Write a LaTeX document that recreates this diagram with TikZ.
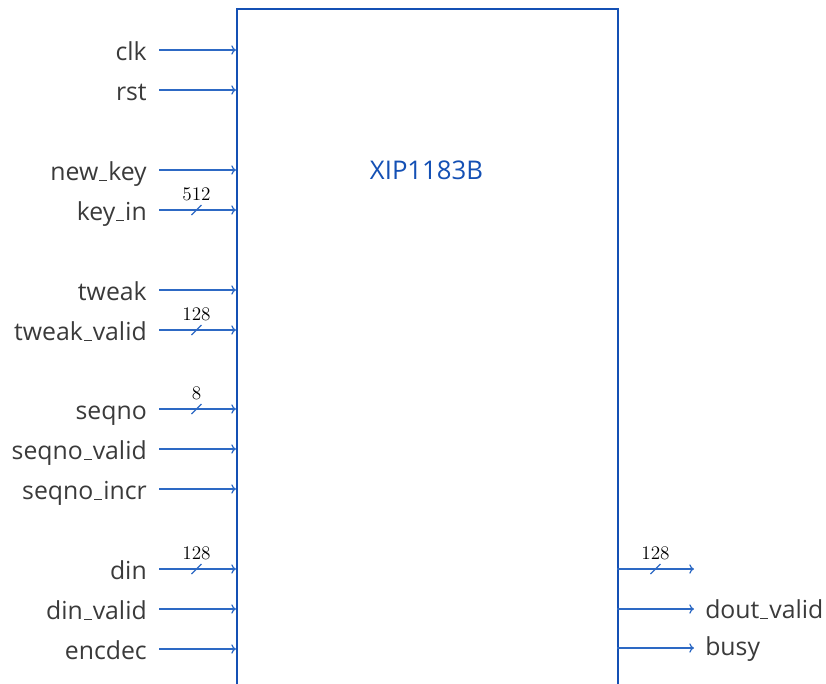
\documentclass[tikz,border=0pt]{standalone}
\usepackage{fontspec}
\newfontfamily\lblfont{Open Sans}
\usetikzlibrary{arrows.meta}
\definecolor{boxblue}{HTML}{1450B4}
\definecolor{sigblue}{HTML}{2D69C4}
\definecolor{txtgray}{HTML}{3A3A3A}
\newcommand\usc{\leavevmode\kern.04em\raisebox{-0.04em}{\rule{0.32em}{0.055em}}\kern.04em}
\begin{document}
\begin{tikzpicture}[x=0.75pt,y=-0.75pt,
  lbl/.style={anchor=base east,inner sep=0pt,text=txtgray,font=\lblfont\fontsize{18.6}{22}\selectfont},
  olbl/.style={anchor=base west,inner sep=0pt,text=txtgray,font=\lblfont\fontsize{18.6}{22}\selectfont},
  sig/.style={draw=sigblue,line width=0.9pt,-{To[length=3.5pt,width=7pt]}},
  bus/.style={draw=sigblue,line width=0.9pt},
  wlbl/.style={inner sep=0pt,font=\fontsize{15}{17}\selectfont},
  blk/.style={draw=boxblue,line width=1.6pt,anchor=north west,minimum width=285.75pt,minimum height=540pt,inner sep=0pt}]
\clip (0,0) rectangle (826,683);
\node[blk] (box) at (236,8) {};
\node[text=boxblue,font=\lblfont\fontsize{19.3}{24}\selectfont] (title) at (426.5,170) {XIP1183B};
% inputs
\foreach \n/\t/\y in {clk/clk/50, rst/rst/90, newkey/new\usc key/170, keyin/key\usc in/210,
  tweak/tweak/290, tweakvalid/tweak\usc valid/330, seqno/seqno/409, seqnovalid/seqno\usc valid/449,
  seqnoincr/seqno\usc incr/489, din/din/569, dinvalid/din\usc valid/609, encdec/encdec/649}{
  \node[lbl] (l-\n) at (147,\y+10) {\t};
  \coordinate (s-\n) at (159,\y);
  \draw[sig] (s-\n) -- (s-\n -| box.west);
}
% bus widths on inputs
\foreach \n/\w/\y in {keyin/512/210, tweakvalid/128/330, seqno/8/409, din/128/569}{
  \coordinate (m-\n) at (196.5,\y);
  \draw[bus] ([xshift=-3.75pt,yshift=-3.75pt]m-\n) -- ([xshift=3.75pt,yshift=3.75pt]m-\n);
  \node[wlbl] (w-\n) at (196.5,\y-16) {$\w$};
}
% outputs
\coordinate (o-dout) at (617,569);
\coordinate (e-dout) at (694,569);
\draw[sig] (o-dout) -- (e-dout);
\coordinate (m-dout) at (655.5,569);
\draw[bus] ([xshift=-3.75pt,yshift=-3.75pt]m-dout) -- ([xshift=3.75pt,yshift=3.75pt]m-dout);
\node[wlbl] (w-dout) at (655.5,553) {$128$};
\node[olbl] (l-doutvalid) at (705,618) {dout\usc valid};
\coordinate (o-doutvalid) at (617,609);
\draw[sig] (o-doutvalid) -- ([xshift=-8.25pt]o-doutvalid -| l-doutvalid.west);
\node[olbl] (l-busy) at (705,655) {busy};
\coordinate (o-busy) at (617,648);
\draw[sig] (o-busy) -- ([xshift=-8.25pt]o-busy -| l-busy.west);
\end{tikzpicture}
\end{document}
